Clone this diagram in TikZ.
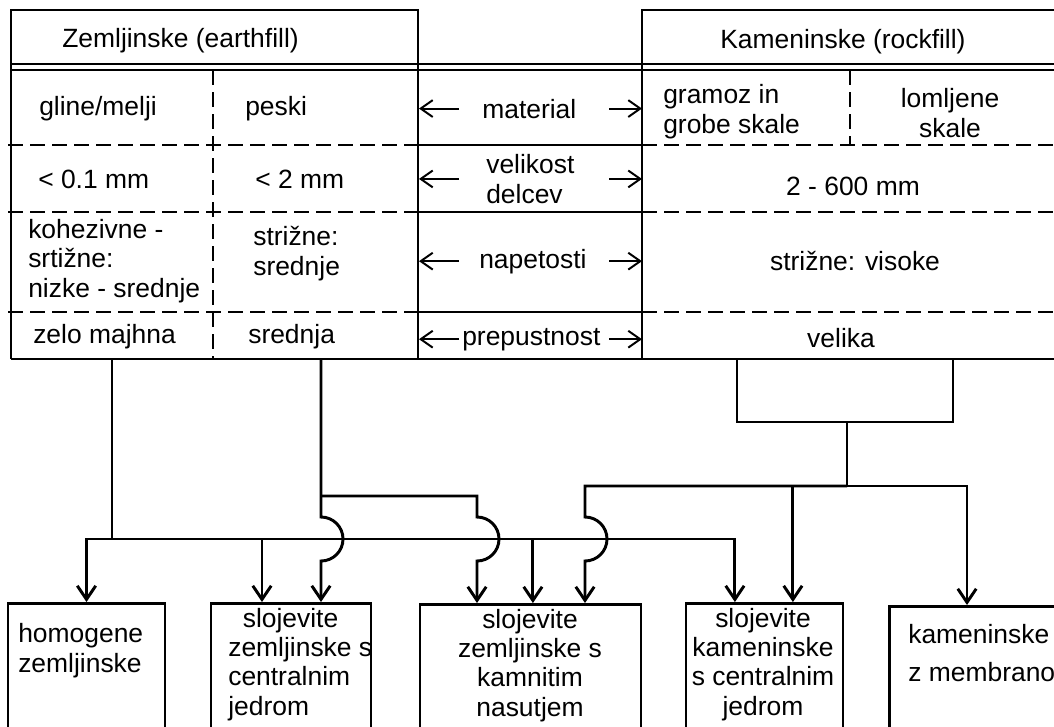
\documentclass[tikz,border=0pt]{standalone}
\usepackage{fontspec}
\setmainfont{Liberation Sans}
\usetikzlibrary{arrows.meta}

\tikzset{
  every node/.style={inner sep=0pt, font=\fontsize{18.8}{20.8}\selectfont},
  cell/.style={anchor=base west},
  ccell/.style={anchor=base},
  frame/.style={line width=2.1pt},
  sep/.style={line width=2.1pt, dash pattern=on 3.75mm off 1.75mm},
  pointer/.style={line width=1.4pt, -{Straight Barb[length=3mm,width=4.2mm]}},
  conn/.style={line width=2.1pt, -{Straight Barb[length=3.4mm,width=4.6mm]}},
  outbox/.style={draw, line width=2.1pt, minimum height=45mm, anchor=north},
  hop/.style={insert path={arc[start angle=90, end angle=-90, radius=5.5mm]}},
}

\begin{document}
\begin{tikzpicture}[x=0.25mm, y=-0.25mm]
        \useasboundingbox (0,0) rectangle (1054,726);
        \clip (0,0) rectangle (1054,726);

        % table frame
        \draw[frame] (11,359) -- (11,10) -- (418,10) -- (418,359);
        \draw[frame] (1070,10) -- (642,10) -- (642,359);
        \draw[frame] (11,359) -- (1070,359);
        \draw[line width=1.5pt] (11,64) -- (1070,64) (11,70) -- (1070,70);
        \draw[frame] (418,145) -- (642,145) (418,212) -- (642,212) (418,312) -- (642,312);
        \foreach \y in {145,212,312} {
            \draw[sep] (8,\y) -- (418,\y);
            \draw[sep] (642,\y) -- (1070,\y);
        }
        \draw[sep] (213,70) -- (213,359);
        \draw[sep] (850,70) -- (850,145);

        % headers
        \node[cell] (zhead) at (62,47) {Zemljinske (earthfill)};
        \node[cell] (khead) at (720,48) {Kameninske (rockfill)};

        % material (multi-line cells sit on their last line)
        \node[cell] (glina) at (39,115) {gline/melji};
        \node[cell] (pesek) at (245,115) {peski};
        \node[cell] (mat) at (482,118) {material};
        \node[cell, align=left] (gramoz) at (663,133) {gramoz in\\grobe skale};
        \node[ccell, align=center] (lom) at (950,137) {lomljene\\skale};

        % velikost delcev
        \node[cell] (zrno1) at (38,188) {< 0.1 mm};
        \node[cell] (zrno2) at (255,188) {< 2 mm};
        \node[cell, align=left] (vel) at (486,203) {velikost\\delcev};
        \node[ccell] (zrno3) at (853,195) {2 - 600 mm};

        % napetosti
        \node[cell, align=left] (koh) at (28,297) {kohezivne -\\srtižne:\\nizke - srednje};
        \node[cell, align=left] (str) at (253,275) {strižne:\\srednje};
        \node[cell] (nap) at (479,268) {napetosti};
        \node[ccell] (vis) at (855,270) {strižne: visoke};

        % prepustnost
        \node[cell] (prep1) at (33,343) {zelo majhna};
        \node[cell] (prep2) at (248,343) {srednja};
        \node[cell] (prep) at (462,345) {prepustnost};
        \node[ccell] (prep3) at (841,347) {velika};

        \coordinate (mL) at (419,0);
        \coordinate (mR) at (642,0);
        \coordinate (aL) at (459,0);
        \coordinate (aR) at (609,0);
        \foreach \n in {mat,vel,nap,prep} {
            \draw[pointer] (\n.west -| aL) -- (\n.west -| mL);
            \draw[pointer] (\n.west -| aR) -- (\n.west -| mR);
        }

        % dam types
        \node[outbox, minimum width=39.25mm] (hom) at (86.5,602) {};
        \node[outbox, minimum width=40mm] (szc) at (291,602) {};
        \node[outbox, minimum width=55.25mm] (szk) at (530.5,603) {};
        \node[outbox, minimum width=39.25mm] (skc) at (764.5,602) {};
        \node[outbox, minimum width=50mm, anchor=north west] (kmem) at (888,605) {};

        \node[cell, align=left] (homt) at (18,672) {homogene\\zemljinske};
        \node[cell, align=left] (szct) at (228,715) {\hspace*{0.55em}slojevite\\zemljinske s\\centralnim\\jedrom};
        \node[ccell, align=center] (szkt) at (530,716) {slojevite\\zemljinske s\\kamnitim\\nasutjem};
        \node[ccell, align=center] (skct) at (763,715) {slojevite\\kameninske\\s centralnim\\jedrom};
        \node[cell, align=left] (kmemt) at (908,681) {kameninske\\[1.95mm]z membrano};

        % branch points
        \coordinate (oA) at (112,359);
        \coordinate (oB) at (321,359);
        \coordinate (oC1) at (737,359);
        \coordinate (oC2) at (953,359);
        \coordinate (jA) at (112,539);
        \coordinate (jB) at (321,496);
        \coordinate (hB) at (477,496);
        \coordinate (jC) at (847,422);
        \coordinate (kC) at (847,486);
        \coordinate (hC) at (585,486);
        \coordinate (hopT) at (0,517);

        % earthfill, fine grained
        \draw[frame] (oA) -- (jA);
        \draw[conn] (jA) -| (hom.north);
        \draw[conn] (jA) -| ([xshift=-7.25mm]szc.north);
        \draw[conn] (jA) -| ([xshift=0.6mm]szk.north);
        \draw[conn] (jA) -| ([xshift=-7.4mm]skc.north);

        % earthfill, sands
        \draw[conn] (oB) -- (oB |- hopT) [hop] -- (oB |- szc.north);
        \draw[conn] (jB) -- (hB) -- (hB |- hopT) [hop] -- (hB |- szk.north);

        % rockfill
        \draw[frame] (oC1) -- (oC1 |- jC) -- (oC2 |- jC) -- (oC2);
        \draw[frame] (jC) -- (kC);
        \draw[conn] (kC) -- (hC) -- (hC |- hopT) [hop] -- (hC |- szk.north);
        \draw[conn] (kC) -| ([xshift=7.1mm]skc.north);
        \draw[conn] (kC) -| ([xshift=19.75mm]kmem.north west);
\end{tikzpicture}
\end{document}
